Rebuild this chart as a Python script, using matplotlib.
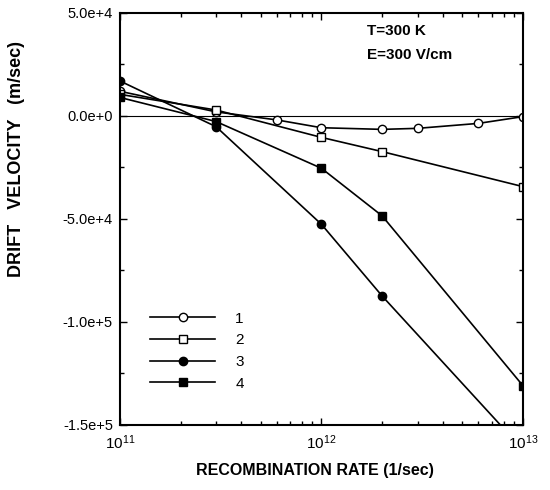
import matplotlib
matplotlib.use("Agg")
import matplotlib.pyplot as plt
from matplotlib.ticker import FixedLocator, FuncFormatter, LogLocator, NullFormatter

plt.rcParams["font.family"] = ["Liberation Sans", "DejaVu Sans"]

# recombination rate (1/sec) and drift velocity (m/sec) per curve
rate_1 = [1e11, 3e11, 6e11, 1e12, 2e12, 3e12, 6e12, 1e13]
vel_1 = [12000, 2000, -1900, -5700, -6500, -6000, -3600, -300]

rate_2 = [1e11, 3e11, 1e12, 2e12, 1e13]
vel_2 = [10500, 2900, -10400, -17300, -34300]

rate_3 = [1e11, 3e11, 1e12, 2e12, 1e13]
vel_3 = [17000, -5200, -52600, -87400, -162000]

rate_4 = [1e11, 3e11, 1e12, 2e12, 1e13]
vel_4 = [9000, -2700, -25400, -48500, -131000]

labels = ["1", "2", "3", "4"]
y_ticks = [5e4, 0, -5e4, -1e5, -1.5e5]


def sci_label(v, pos=None):
    mant, exp = f"{v:.1e}".split("e")
    return f"{mant}e{exp[0]}{int(exp[1:])}"


fig = plt.figure(figsize=(5.5, 4.9), dpi=100)
ax = fig.add_axes([0.218, 0.1327, 0.733, 0.8408])

ax.axhline(0, color="black", lw=0.8, zorder=1)

style = dict(color="black", lw=1.2, markersize=6, markeredgewidth=1.0, clip_on=True)
ax.plot(rate_1, vel_1, marker="o", mfc="white", mec="black", label=labels[0], **style)
ax.plot(rate_2, vel_2, marker="s", mfc="white", mec="black", label=labels[1], **style)
ax.plot(rate_3, vel_3, marker="o", mfc="black", mec="black", label=labels[2], **style)
ax.plot(rate_4, vel_4, marker="s", mfc="black", mec="black", label=labels[3], **style)

ax.set_xscale("log")
ax.set_xlim(1e11, 1e13)
ax.set_ylim(-1.5e5, 5e4)

ax.yaxis.set_major_locator(FixedLocator(y_ticks))
ax.yaxis.set_minor_locator(FixedLocator([2.5e4, -2.5e4, -7.5e4, -1.25e5]))
ax.yaxis.set_major_formatter(FuncFormatter(sci_label))
ax.xaxis.set_minor_locator(LogLocator(base=10, subs=range(2, 10)))
ax.xaxis.set_minor_formatter(NullFormatter())

ax.tick_params(which="both", direction="in", top=True, right=True, width=1.0)
ax.tick_params(which="major", length=5, pad=5)
ax.tick_params(which="minor", length=3)
ax.tick_params(axis="y", labelsize=10.5)
ax.tick_params(axis="x", labelsize=11, pad=6)
for sp in ax.spines.values():
    sp.set_linewidth(1.5)

ax.set_xlabel("RECOMBINATION RATE (1/sec)", fontsize=11.5, fontweight="bold")
ax.xaxis.set_label_coords(0.484, -0.092)
ax.set_ylabel("DRIFT   VELOCITY   (m/sec)", fontsize=13, fontweight="bold")
ax.yaxis.set_label_coords(-0.236, 0.646)

ax.text(0.613, 0.956, "T=300 K", transform=ax.transAxes,
        fontsize=11, fontweight="bold", va="center", ha="left")
ax.text(0.613, 0.898, "E=300 V/cm", transform=ax.transAxes,
        fontsize=11, fontweight="bold", va="center", ha="left")

ax.legend(loc="lower left", bbox_to_anchor=(0.04, 0.05), frameon=False,
          fontsize=11, handlelength=4.3, handletextpad=1.3, labelspacing=0.5)

fig.savefig("out.png", dpi=100)
